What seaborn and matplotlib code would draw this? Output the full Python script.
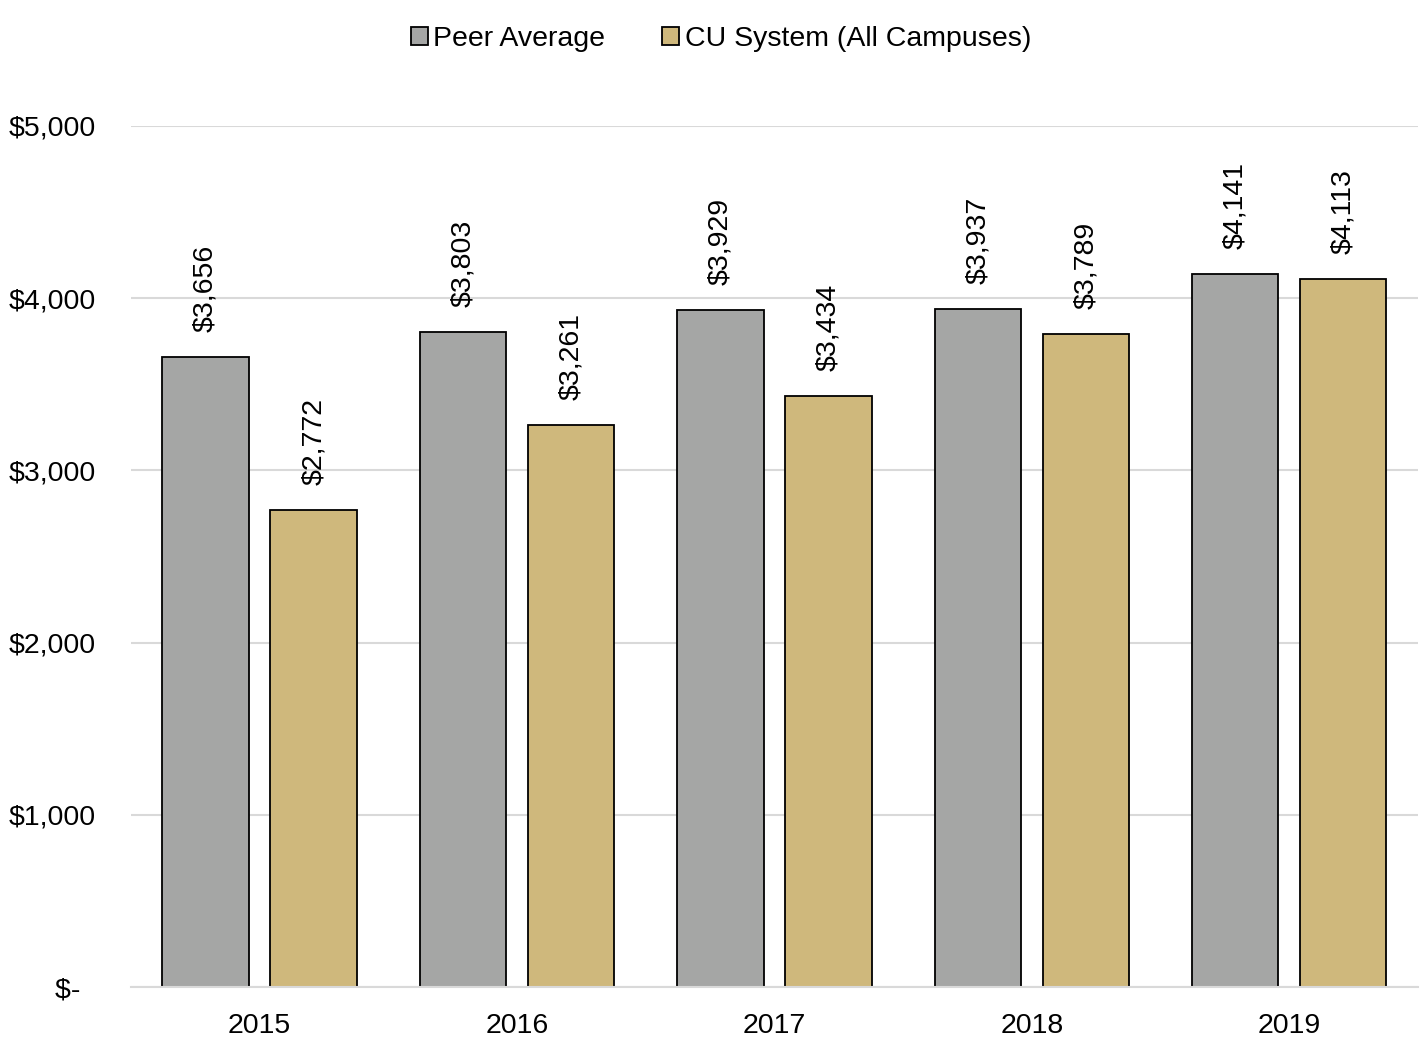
import pandas as pd
import matplotlib.pyplot as plt
import seaborn as sns

# データ
years = ["2015", "2016", "2017", "2018", "2019"]
peer_average = [3656, 3803, 3929, 3937, 4141]
cu_system = [2772, 3261, 3434, 3789, 4113]
series_names = ["Peer Average", "CU System (All Campuses)"]
y_ticks = [0, 1000, 2000, 3000, 4000, 5000]

df = pd.DataFrame({
    "year": years * 2,
    "value": peer_average + cu_system,
    "series": [series_names[0]] * len(years) + [series_names[1]] * len(years),
})

sns.set_style("white")
plt.rcParams['font.family'] = ['Liberation Sans', 'DejaVu Sans']
plt.rcParams['text.color'] = 'black'
plt.rcParams['xtick.color'] = 'black'
plt.rcParams['ytick.color'] = 'black'

fig = plt.figure(figsize=(14.22, 10.45), dpi=100)
ax = fig.add_axes([0.0921, 0.0555, 0.905, 0.824])

palette = {series_names[0]: "#A5A6A5", series_names[1]: "#CFB87C"}
sns.barplot(data=df, x="year", y="value", hue="series", palette=palette,
            width=0.84, gap=0.2, edgecolor="black", linewidth=1.3,
            saturation=1, ax=ax, legend=True)

# 値ラベル
for cont in ax.containers:
    labels = [f"${v:,.0f}" for v in cont.datavalues]
    ax.bar_label(cont, labels=labels, rotation=90, padding=18, fontsize=20.5,
                 color='black')

ax.set_ylim(0, 5000)
ax.set_yticks(y_ticks)
ax.set_yticklabels(["$-  " if t == 0 else f"${t:,}" for t in y_ticks], fontsize=20.5)
ax.tick_params(axis='y', length=0, pad=25)
ax.tick_params(axis='x', length=0, labelsize=20.5, pad=19)
ax.set_xlabel("")
ax.set_ylabel("")
ax.grid(axis='y', color="#D9D9D9", linewidth=1.5)
ax.set_axisbelow(True)
for s in ["top", "right", "left"]:
    ax.spines[s].set_visible(False)
ax.spines["bottom"].set_color("#D9D9D9")
ax.spines["bottom"].set_linewidth(1.5)

handles, labs = ax.get_legend_handles_labels()
ax.legend_.remove()
fig.legend(handles, labs, loc="center", bbox_to_anchor=(0.507, 0.963), ncol=2,
           frameon=False, fontsize=20.5, handlelength=0.6, handleheight=0.6,
           handletextpad=0.2, columnspacing=2.0)

plt.savefig("out.png", dpi=100)
plt.close()
